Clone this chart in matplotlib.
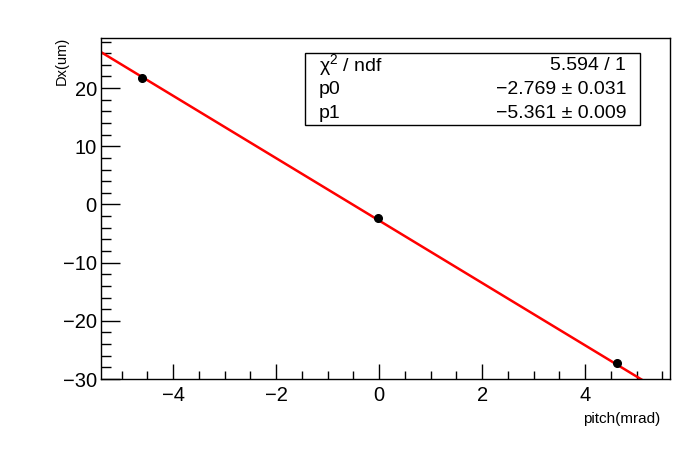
import matplotlib
matplotlib.use("Agg")
import matplotlib.pyplot as plt
import numpy as np
from matplotlib.ticker import MultipleLocator

plt.rcParams["font.family"] = ["Liberation Sans", "DejaVu Sans"]
plt.rcParams["mathtext.default"] = "regular"

# measured points
pitch = [-4.6, -0.03, 4.62]
dx = [21.7, -2.35, -27.3]
dx_err = [0.3, 0.3, 0.3]

# fit result
p0, p0_err = -2.769, 0.031
p1, p1_err = -5.361, 0.009
chi2, ndf = 5.594, 1

xlim = (-5.4, 5.65)
ylim = (-30, 28.6)

fig = plt.figure(figsize=(6.98, 4.74), dpi=100)
ax = fig.add_axes([0.1447, 0.2004, 0.8153, 0.7194])

xf = np.linspace(xlim[0], xlim[1], 200)
ax.plot(xf, p0 + p1 * xf, color="#ff0000", lw=1.8, zorder=2)
ax.errorbar(pitch, dx, yerr=dx_err, fmt="o", color="black", ms=5.5,
            elinewidth=1, capsize=0, zorder=3)

ax.set_xlim(*xlim)
ax.set_ylim(*ylim)
ax.xaxis.set_major_locator(MultipleLocator(2))
ax.xaxis.set_minor_locator(MultipleLocator(0.5))
ax.yaxis.set_major_locator(MultipleLocator(10))
ax.yaxis.set_minor_locator(MultipleLocator(2))
ax.tick_params(which="both", direction="in", labelsize=14.5, width=1)
ax.tick_params(axis="y", which="major", length=14, pad=3)
ax.tick_params(axis="y", which="minor", length=7)
ax.tick_params(axis="x", which="major", length=11, pad=5)
ax.tick_params(axis="x", which="minor", length=6)
for s in ax.spines.values():
    s.set_linewidth(1)

fig.text(0.946, 0.117, "pitch(mrad)", ha="right", va="center", fontsize=11)
fig.text(0.089, 0.922, "Dx(um)", ha="center", va="top", rotation=90, fontsize=10.5)

# stats box
box = plt.Rectangle((305 / 698, 1 - 125 / 474), 335 / 698, 72 / 474,
                    transform=fig.transFigure, fill=True, facecolor="white",
                    edgecolor="black", lw=1, zorder=5)
fig.patches.append(box)
rows = [("χ$^2$ / ndf", f"{chi2:.3f} / {ndf}"),
        ("p0", f"\u2212{abs(p0):.3f} ± {p0_err:.3f}"),
        ("p1", f"\u2212{abs(p1):.3f} ± {p1_err:.3f}")]
for i, (lab, val) in enumerate(rows):
    y = 1 - (65 + 24 * i) / 474
    fig.text(319 / 698, y, lab, ha="left", va="center", fontsize=14, zorder=6)
    fig.text(626 / 698, y, val, ha="right", va="center", fontsize=14, zorder=6)

fig.savefig("out.png", dpi=100)
